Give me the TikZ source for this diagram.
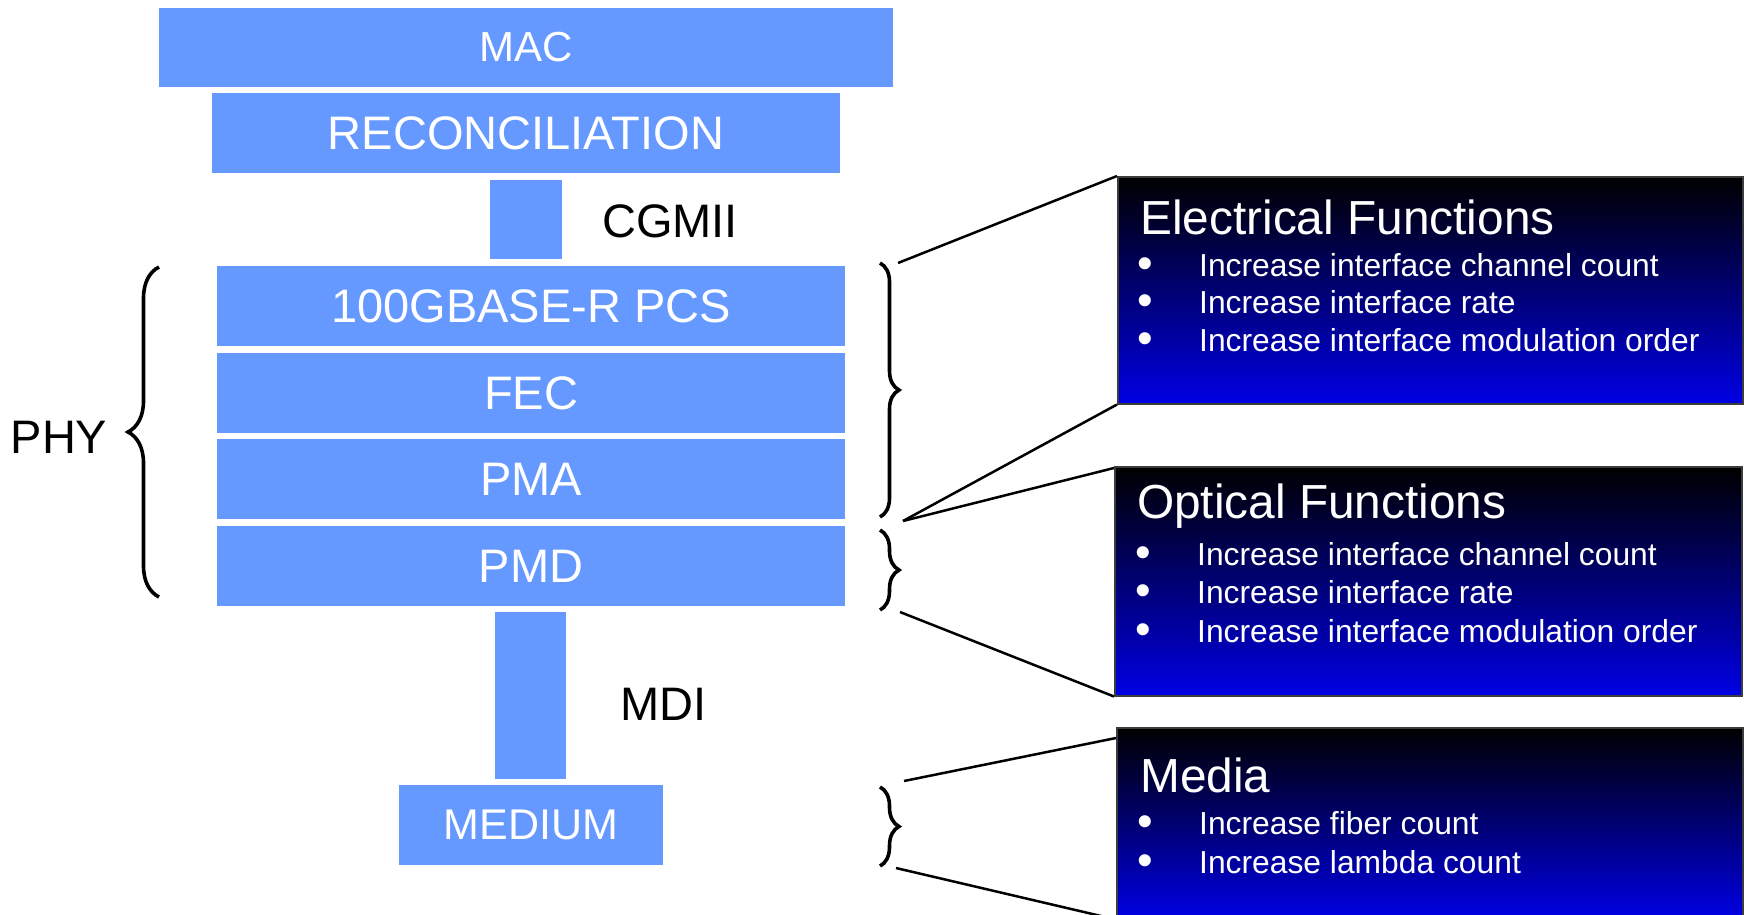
\documentclass[tikz,border=0pt]{standalone}
\usepackage{fontspec}
\setmainfont{Liberation Sans}
\usetikzlibrary{decorations.pathreplacing,calc}
\definecolor{layerblue}{RGB}{102,153,255}
\definecolor{deepblue}{RGB}{0,0,228}
\definecolor{boxedge}{RGB}{60,60,60}
% enlarged bullet followed by a fixed indent
\newcommand{\itembullet}{\makebox[62pt][l]{\raisebox{-2pt}{\scalebox{1.4}{•}}}}
\begin{document}
\begin{tikzpicture}[x=1pt,y=-1pt,
  layer/.style={fill=layerblue, draw=none, inner sep=0pt, text=white,
    font=\fontsize{47}{56}\selectfont},
  stub/.style={fill=layerblue, draw=none, inner sep=0pt},
  label/.style={inner sep=0pt, text=black, font=\fontsize{47}{56}\selectfont},
  funcbox/.style={anchor=north west, inner sep=0pt, draw=boxedge, line width=1.5pt,
    top color=black, bottom color=deepblue},
  title/.style={anchor=west, inner sep=0pt, text=white, font=\fontsize{47.8}{56}\selectfont},
  item/.style={anchor=west, inner sep=0pt, text=white, font=\fontsize{31.8}{38}\selectfont,
    text height=23pt, text depth=1pt},
  curly/.style={decorate, line width=3.6pt, draw=black},
  leader/.style={draw=black, line width=2.5pt}]
\useasboundingbox (0,0) rectangle (1744,914);
\clip (0,0) rectangle (1744,914);

% layer stack
\node[layer, minimum width=734pt, minimum height=79pt, font=\fontsize{42}{50}\selectfont] (mac) at (526,47.5) {MAC};
\node[layer, minimum width=628pt, minimum height=80pt] (rs) at (526,133) {RECONCILIATION};
\node[stub, minimum width=72pt, minimum height=79pt] (cgmiistub) at (526,219.5) {};
\node[label, anchor=west] (cgmii) at (602,221) {CGMII};
\node[layer, minimum width=628pt, minimum height=80pt] (pcs) at (531,306) {100GBASE-R PCS};
\node[layer, minimum width=628pt, minimum height=80pt] (fec) at (531,393) {FEC};
\node[layer, minimum width=628pt, minimum height=80pt] (pma) at (531,479) {PMA};
\node[layer, minimum width=628pt, minimum height=80pt] (pmd) at (531,566) {PMD};
\node[stub, minimum width=71pt, minimum height=167pt] (mdistub) at (530.5,695.5) {};
\node[label, anchor=west] (mdi) at (620,704) {MDI};
\node[layer, minimum width=264pt, minimum height=80pt, font=\fontsize{43}{50}\selectfont] (medium) at (531,825) {MEDIUM};

% PHY grouping
\node[label] (phy) at (59,437) {PHY};
\coordinate (phytop) at (159,267);
\coordinate (phybot) at (159,597);
\draw[curly, decoration={brace, amplitude=31pt}] (phybot) -- (phytop);

% braces on the right of the stack
\coordinate (b1top) at (880,263);
\coordinate (b1bot) at (880,517);
\coordinate (b2top) at (880,530);
\coordinate (b2bot) at (880,610);
\coordinate (b3top) at (880,787);
\coordinate (b3bot) at (880,866);
\draw[curly, decoration={brace, amplitude=19pt}] (b1top) -- (b1bot);
\draw[curly, decoration={brace, amplitude=19pt}] (b2top) -- (b2bot);
\draw[curly, decoration={brace, amplitude=19pt}] (b3top) -- (b3bot);

% function boxes
\node[funcbox, minimum width=625pt, minimum height=227pt] (elec) at (1117,176) {};
\node[funcbox, minimum width=627pt, minimum height=229pt] (opt) at (1114,466) {};
\node[funcbox, minimum width=626pt, minimum height=191pt] (media) at (1116,727) {};

% leader lines from braces to boxes
\coordinate (l1) at (898,263);
\coordinate (l2) at (903,521);
\coordinate (l3) at (900,612);
\coordinate (l4) at (904,781);
\coordinate (l5) at (896,868);
\draw[leader] (l1) -- (elec.north west);
\draw[leader] (l2) -- (elec.south west);
\draw[leader] (l2) -- ($(opt.north west)+(0,2)$);
\draw[leader] (l3) -- (opt.south west);
\draw[leader] (l4) -- ($(media.north west)+(0,11)$);
\draw[leader] (l5) -- (media.south west);

% electrical functions text
\node[title] (etitle) at (1140,217) {Electrical Functions};
\node[item] (ei1) at (1137,265) {\itembullet Increase interface channel count};
\node[item] (ei2) at (1137,302) {\itembullet Increase interface rate};
\node[item] (ei3) at (1137,340) {\itembullet Increase interface modulation order};

% optical functions text
\node[title] (otitle) at (1137,506) {Optical Functions};
\node[item] (oi1) at (1135,554) {\itembullet Increase interface channel count};
\node[item] (oi2) at (1135,592) {\itembullet Increase interface rate};
\node[item] (oi3) at (1135,631) {\itembullet Increase interface modulation order};

% media text
\node[title] (mtitle) at (1140,775) {Media};
\node[item] (mi1) at (1137,823) {\itembullet Increase fiber count};
\node[item] (mi2) at (1137,862) {\itembullet Increase lambda count};
\end{tikzpicture}
\end{document}
